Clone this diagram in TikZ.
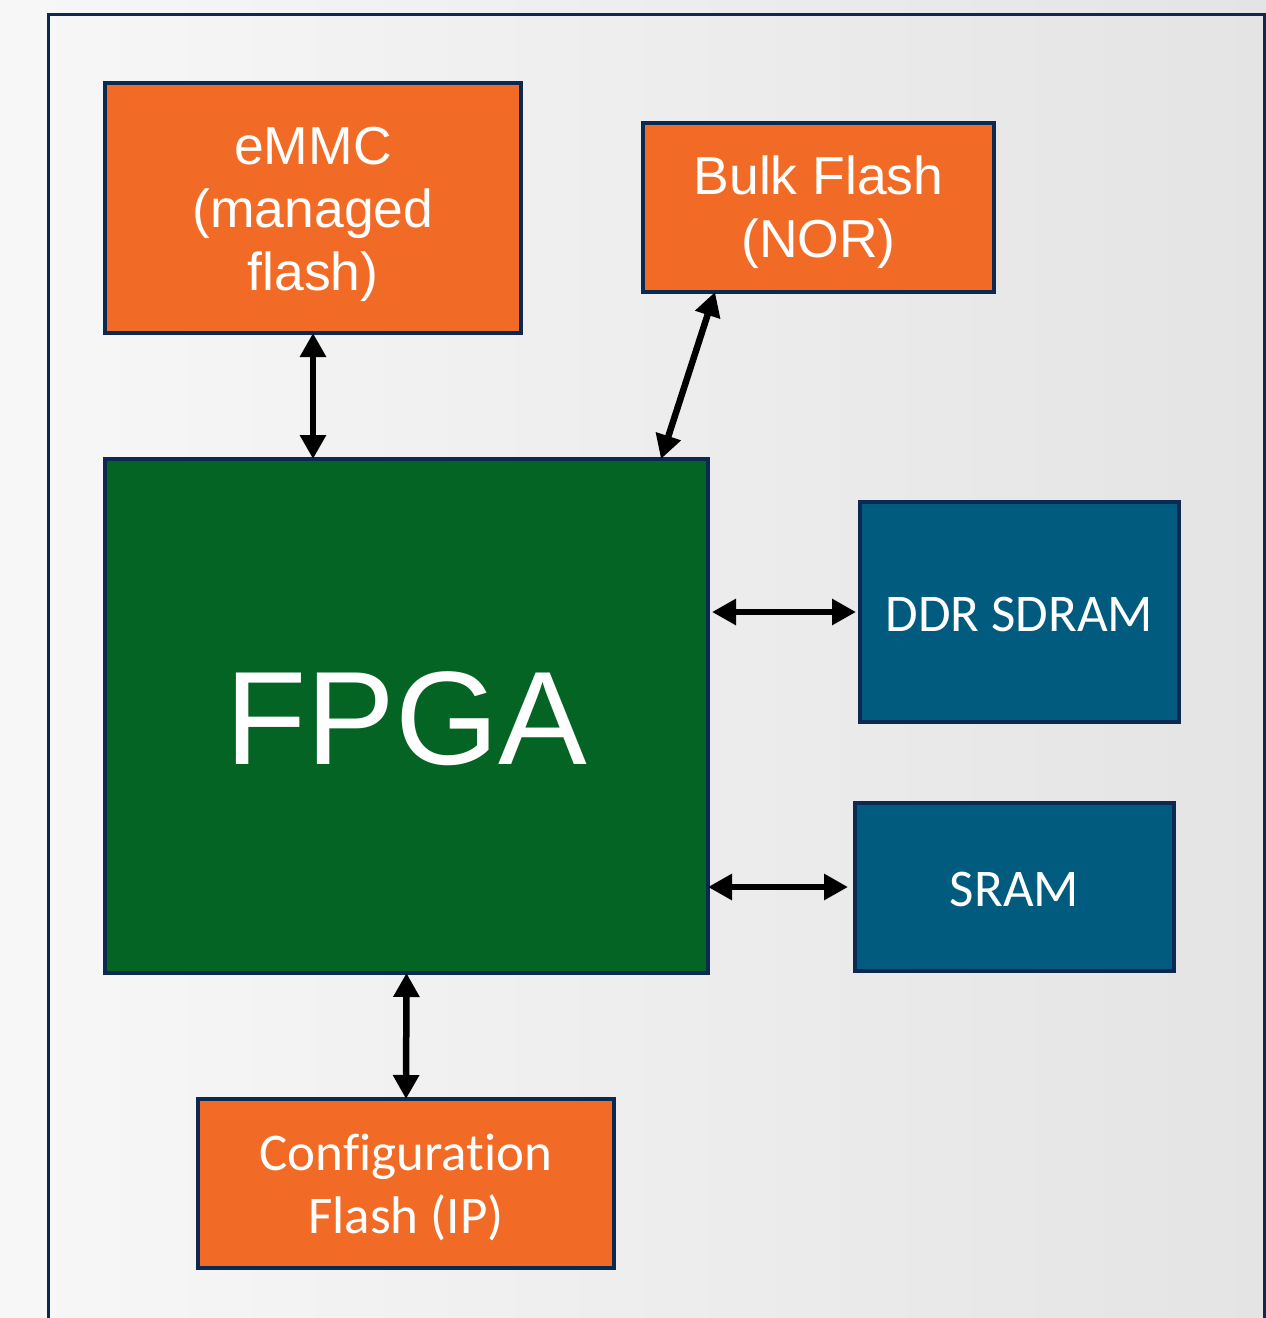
\documentclass[tikz,border=0pt]{standalone}
\usepackage{fontspec}
\setmainfont{Liberation Sans}
\newfontfamily\calfont[Ligatures=NoCommon]{Carlito}
\usetikzlibrary{arrows.meta,calc}

\definecolor{navy}{RGB}{12,41,82}
\definecolor{flashorange}{RGB}{242,107,38}
\definecolor{fpgagreen}{RGB}{3,100,35}
\definecolor{ramblue}{RGB}{0,91,127}
\definecolor{bggray}{RGB}{228,228,228}

\tikzset{
  block/.style={draw=navy, line width=4pt, inner sep=0pt, outer sep=0pt},
  label/.style={text=white, align=center, inner sep=0pt},
  arialtext/.style={label, font=\fontsize{53.5}{63}\selectfont},
  calibritext/.style={label, font=\calfont\fontsize{53}{63}\selectfont},
  link/.style={line width=6.5pt, {Triangle[length=24pt,width=25pt]}-{Triangle[length=24pt,width=25pt]}}
}

\begin{document}
\begin{tikzpicture}[x=1pt,y=-1pt]
  \useasboundingbox (0,0) rectangle (1266,1318);
  % page background with a soft horizontal fade
  \fill[left color=white!97!black, right color=bggray] (0,0) rectangle (1266,1318);
  % outer frame, open at the bottom
  \draw[navy, line width=3pt] (48.5,1330) -- (48.5,14.5) -- (1264.5,14.5) -- (1264.5,1330);

  % memory blocks
  \node[block, fill=flashorange, minimum width=416pt, minimum height=250pt] (emmc) at (313,208) {};
  \node[block, fill=flashorange, minimum width=351pt, minimum height=169pt] (bulk) at (818.5,207.5) {};
  \node[block, fill=fpgagreen, minimum width=603pt, minimum height=514pt] (fpga) at (406.5,716) {};
  \node[block, fill=ramblue, minimum width=319pt, minimum height=220pt] (ddr) at (1019.5,612) {};
  \node[block, fill=ramblue, minimum width=319pt, minimum height=168pt] (sram) at (1014.5,887) {};
  \node[block, fill=flashorange, minimum width=416pt, minimum height=169pt] (config) at (406,1183.5) {};

  % block captions
  \node[arialtext] (emmc-t) at ($(emmc)+(0,6)$) {eMMC\\(managed\\flash)};
  \node[arialtext] (bulk-t) at ($(bulk)+(0,5)$) {Bulk Flash\\(NOR)};
  \node[label, font=\fontsize{133}{150}\selectfont] (fpga-t) at ($(fpga)+(0,3)$) {FPGA};
  \node[calibritext] (ddr-t) at ($(ddr)+(0,2)$) {DDR SDRAM};
  \node[calibritext] (sram-t) at ($(sram)+(0,2)$) {SRAM};
  \node[calibritext] (config-t) at ($(config)+(0,4)$) {Configuration\\Flash (IP)};

  % bidirectional links
  \draw[link] (emmc.south) -- (emmc.south |- fpga.north);
  \draw[link] ($(bulk.south west)+(72,0)$) -- ($(fpga.north east)+(-47,0)$);
  \draw[link] ($(fpga.east |- ddr.west)+(4,0)$) -- ($(ddr.west)+(-4,0)$);
  \draw[link] (fpga.east |- sram.west) -- ($(sram.west)+(-7,0)$);
  \draw[link] (fpga.south) -- (config.north);
\end{tikzpicture}
\end{document}
